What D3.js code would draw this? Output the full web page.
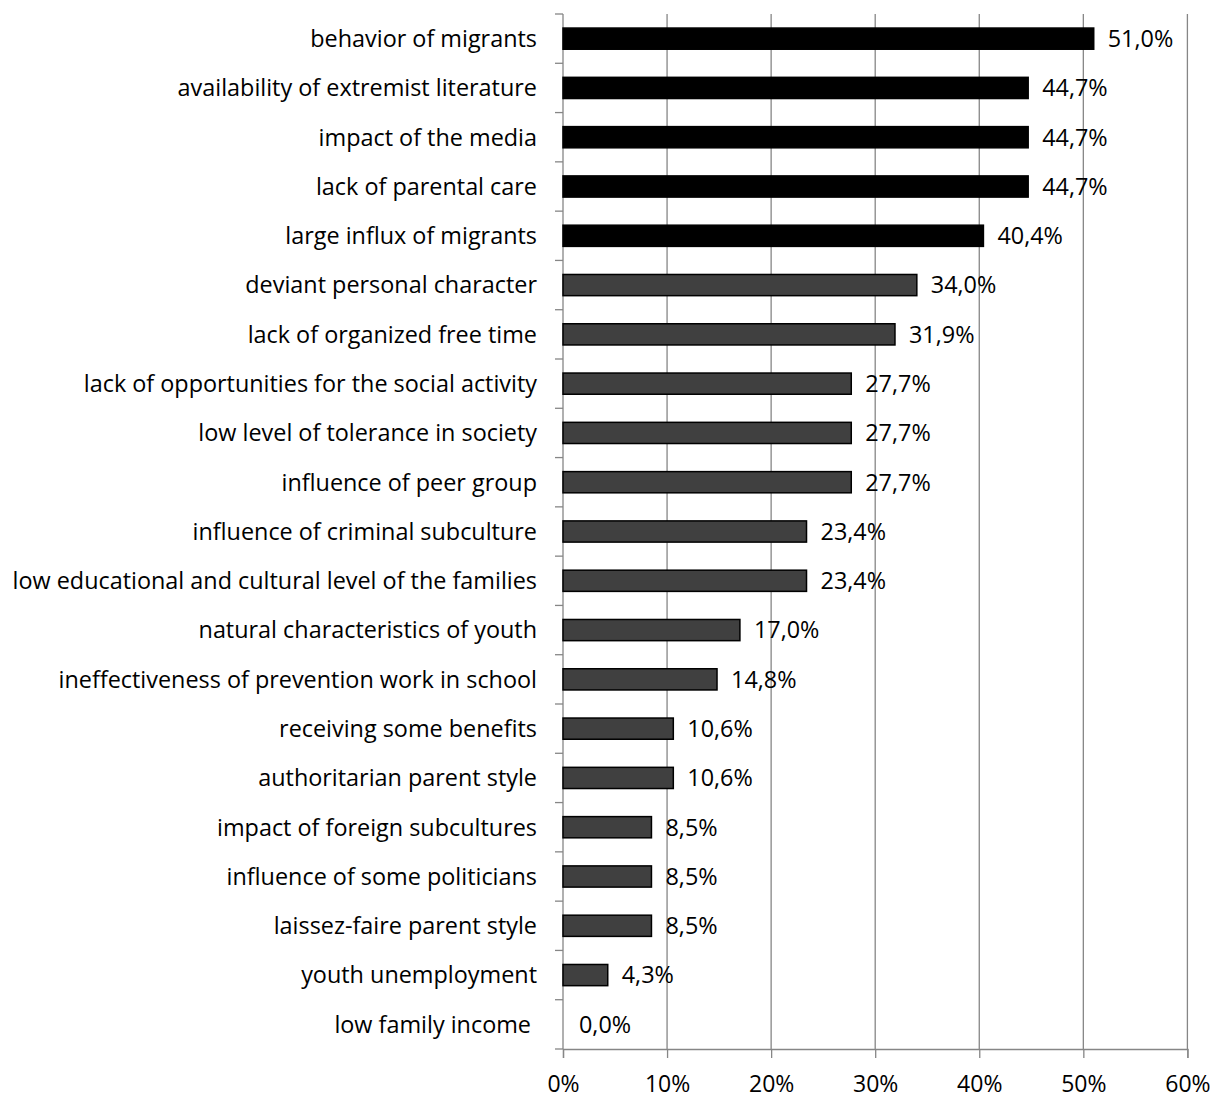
<!DOCTYPE html>
<html>
<head>
<meta charset="utf-8">
<script src="https://cdn.jsdelivr.net/npm/d3@7"></script>
<style>
  html, body { margin: 0; padding: 0; background: #fff; }
  svg text { font-family: "Open Sans", "Noto Sans", sans-serif; fill: #000; }
</style>
</head>
<body>
<svg id="chart" width="1218" height="1099"></svg>
<script>
// Factors of youth extremism, share of respondents (%)
const categories = [
  "behavior of migrants",
  "availability of extremist literature",
  "impact of the media",
  "lack of parental care",
  "large influx of migrants",
  "deviant personal character",
  "lack of organized free time",
  "lack of opportunities for the social activity",
  "low level of tolerance in society",
  "influence of peer group",
  "influence of criminal subculture",
  "low educational and cultural level of the families",
  "natural characteristics of youth",
  "ineffectiveness of prevention work in school",
  "receiving some benefits",
  "authoritarian parent style",
  "impact of foreign subcultures",
  "influence of some politicians",
  "laissez-faire parent style",
  "youth unemployment",
  "low family income"
];
const values = [51.0, 44.7, 44.7, 44.7, 40.4, 34.0, 31.9, 27.7, 27.7, 27.7, 23.4, 23.4, 17.0, 14.8, 10.6, 10.6, 8.5, 8.5, 8.5, 4.3, 0.0];
// the first five factors are highlighted in black
const topGroup = 5;
const xTicks = [0, 10, 20, 30, 40, 50, 60];

const svg = d3.select("#chart");
const margin = { left: 563, top: 14 };
const plotBottom = 1049;

const x = d3.scaleLinear().domain([0, 60]).range([margin.left, margin.left + 624.4]);
const y = d3.scaleBand().domain(categories).range([margin.top, plotBottom]).paddingInner(0.57).paddingOuter(0.285);

const gridColor = "#868686";
const labelSize = 23.4;

// vertical gridlines
svg.append("g").selectAll("line").data(xTicks.slice(1)).join("line")
  .attr("x1", d => x(d)).attr("x2", d => x(d))
  .attr("y1", margin.top).attr("y2", plotBottom)
  .attr("stroke", gridColor).attr("stroke-width", 1.3);

// x axis
const xAxis = svg.append("g").attr("transform", `translate(0,${plotBottom})`)
  .call(d3.axisBottom(x).tickValues(xTicks).tickFormat(d => d + "%").tickSize(9).tickPadding(18));
xAxis.select(".domain").attr("stroke", gridColor).attr("stroke-width", 1.3);
xAxis.selectAll(".tick line").attr("stroke", gridColor).attr("stroke-width", 1.3);
xAxis.selectAll("text").attr("font-size", 23).attr("fill", "#000")
  .style("font-family", "\"Open Sans\", sans-serif");

// y axis line with ticks at band boundaries
const step = y.step();
const boundaries = d3.range(categories.length + 1).map(i => margin.top + i * step);
svg.append("line")
  .attr("x1", x(0)).attr("x2", x(0))
  .attr("y1", margin.top).attr("y2", plotBottom)
  .attr("stroke", gridColor).attr("stroke-width", 1.3);
svg.append("g").selectAll("line").data(boundaries).join("line")
  .attr("x1", x(0) - 8).attr("x2", x(0))
  .attr("y1", d => d).attr("y2", d => d)
  .attr("stroke", gridColor).attr("stroke-width", 1.3);

// bars
svg.append("g").selectAll("rect").data(categories).join("rect")
  .attr("x", x(0))
  .attr("y", d => y(d))
  .attr("width", (d, i) => x(values[i]) - x(0))
  .attr("height", y.bandwidth())
  .attr("fill", (d, i) => i < topGroup ? "#000" : "#404040")
  .attr("stroke", "#000")
  .attr("stroke-width", (d, i) => values[i] > 0 ? 1.5 : 0);

// category labels
svg.append("g").selectAll("text").data(categories).join("text")
  .attr("x", (d, i) => x(0) - (values[i] > 0 ? 26 : 32))
  .attr("y", d => y(d) + y.bandwidth() / 2)
  .attr("dy", "0.36em")
  .attr("text-anchor", "end")
  .attr("font-size", labelSize)
  .text(d => d);

// value labels
const fmt = v => v.toFixed(1).replace(".", ",") + "%";
svg.append("g").selectAll("text").data(categories).join("text")
  .attr("x", (d, i) => x(values[i]) + (values[i] > 0 ? 14 : 16))
  .attr("y", d => y(d) + y.bandwidth() / 2)
  .attr("dy", "0.36em")
  .attr("font-size", labelSize)
  .text((d, i) => fmt(values[i]));
</script>
</body>
</html>
